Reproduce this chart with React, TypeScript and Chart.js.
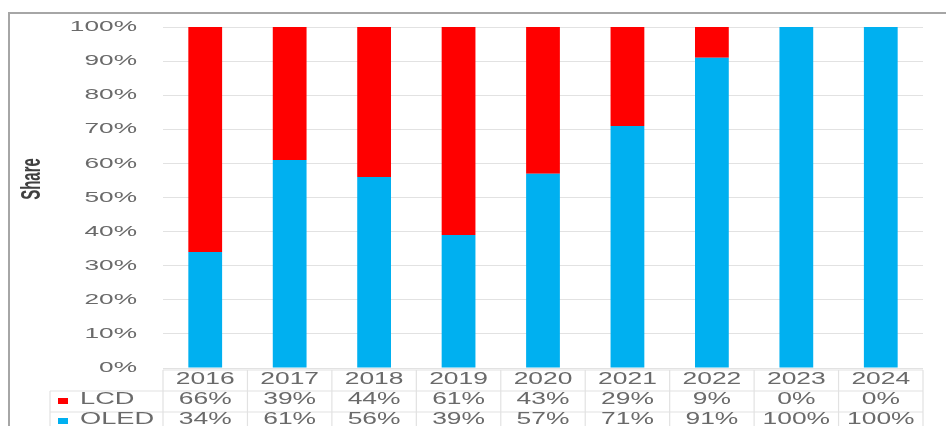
import React, { useEffect, useRef } from "react";
import { Chart, registerables } from "chart.js";

Chart.register(...registerables);

const years = ["2016", "2017", "2018", "2019", "2020", "2021", "2022", "2023", "2024"];
const oledShare = [34, 61, 56, 39, 57, 71, 91, 100, 100];
const lcdShare = [66, 39, 44, 61, 43, 29, 9, 0, 0];
const lcdLabels = ["66%", "39%", "44%", "61%", "43%", "29%", "9%", "0%", "0%"];
const oledLabels = ["34%", "61%", "56%", "39%", "57%", "71%", "91%", "100%", "100%"];

const OLED_COLOR = "#00B0F0";
const LCD_COLOR = "#FF0000";
const TEXT_COLOR = "#6a6a6a";
const LINE_COLOR = "#e2e2e2";
const FONT = "'Liberation Sans', Arial, sans-serif";

function stretchText(ctx: CanvasRenderingContext2D, text: string, x: number, y: number, sx: number, align: CanvasTextAlign) {
  ctx.save();
  ctx.translate(x, y);
  ctx.scale(sx, 1);
  ctx.textAlign = align;
  ctx.textBaseline = "middle";
  ctx.fillText(text, 0, 0);
  ctx.restore();
}

const decorPlugin = {
  id: "decor",
  afterDraw(chart: any) {
    const ctx: CanvasRenderingContext2D = chart.ctx;
    const xs = chart.scales.x;
    const ys = chart.scales.y;
    const area = chart.chartArea;
    const n = years.length;
    const colW = (area.right - area.left) / n;

    // outer frame
    ctx.save();
    ctx.strokeStyle = "#a6a6a6";
    ctx.lineWidth = 2;
    ctx.beginPath();
    ctx.moveTo(9, 430);
    ctx.lineTo(9, 13);
    ctx.lineTo(950, 13);
    ctx.stroke();
    ctx.restore();

    // y tick labels
    ctx.save();
    ctx.fillStyle = TEXT_COLOR;
    ctx.font = `15px ${FONT}`;
    ys.ticks.forEach((t: any) => {
      const py = ys.getPixelForValue(t.value);
      stretchText(ctx, `${t.value}%`, 137, py, 1.75, "right");
    });
    ctx.restore();

    // axis title
    ctx.save();
    ctx.fillStyle = "#404040";
    ctx.font = `bold 15px ${FONT}`;
    ctx.translate(33, 179);
    ctx.scale(1.8, 1);
    ctx.rotate(-Math.PI / 2);
    ctx.textAlign = "center";
    ctx.textBaseline = "middle";
    ctx.fillText("Share", 0, 0);
    ctx.restore();

    // data table
    const top = area.bottom + 2;
    const rowH = 21;
    const r1 = top + rowH;
    const r2 = top + 2 * rowH;
    const bottom = top + 3 * rowH;
    const legLeft = 50;
    ctx.save();
    ctx.strokeStyle = LINE_COLOR;
    ctx.lineWidth = 1.2;
    ctx.beginPath();
    ctx.moveTo(area.left, top);
    ctx.lineTo(area.right, top);
    ctx.moveTo(legLeft, r1);
    ctx.lineTo(area.right, r1);
    ctx.moveTo(legLeft, r2);
    ctx.lineTo(area.right, r2);
    ctx.moveTo(legLeft, r1);
    ctx.lineTo(legLeft, bottom);
    for (let k = 0; k <= n; k++) {
      const bx = area.left + k * colW;
      ctx.moveTo(bx, top);
      ctx.lineTo(bx, bottom);
    }
    ctx.stroke();

    ctx.fillStyle = TEXT_COLOR;
    ctx.font = `16px ${FONT}`;
    years.forEach((yr, i) => {
      const cx = xs.getPixelForValue(i);
      stretchText(ctx, yr, cx, top + 10, 1.65, "center");
      stretchText(ctx, lcdLabels[i], cx, r1 + 9, 1.65, "center");
      stretchText(ctx, oledLabels[i], cx, r2 + 8, 1.65, "center");
    });

    // legend keys
    ctx.fillStyle = LCD_COLOR;
    ctx.fillRect(58, r1 + 7, 10, 6);
    ctx.fillStyle = OLED_COLOR;
    ctx.fillRect(58, r2 + 6, 10, 6);
    ctx.fillStyle = TEXT_COLOR;
    stretchText(ctx, "LCD", 80, r1 + 9, 1.7, "left");
    stretchText(ctx, "OLED", 80, r2 + 8, 1.7, "left");
    ctx.restore();
  },
};

export default function App() {
  const ref = useRef<HTMLCanvasElement>(null);
  useEffect(() => {
    document.body.style.margin = "0";
    const chart = new Chart(ref.current!, {
      type: "bar",
      data: {
        labels: years,
        datasets: [
          { label: "OLED", data: oledShare, backgroundColor: OLED_COLOR, stack: "s" },
          { label: "LCD", data: lcdShare, backgroundColor: LCD_COLOR, stack: "s" },
        ],
      },
      options: {
        responsive: false,
        animation: false,
        layout: { padding: { left: 163, right: 23, top: 27, bottom: 58 } },
        plugins: { legend: { display: false }, tooltip: { enabled: false } },
        datasets: { bar: { categoryPercentage: 1, barPercentage: 0.4 } },
        scales: {
          x: {
            stacked: true,
            ticks: { display: false },
            grid: { display: false, drawTicks: false },
            border: { display: false },
            afterFit: (s: any) => { s.height = 0; },
          },
          y: {
            stacked: true,
            min: 0,
            max: 100,
            ticks: { display: false, stepSize: 10 },
            grid: { color: LINE_COLOR, lineWidth: 1, drawTicks: false },
            border: { display: false },
            afterFit: (s: any) => { s.width = 0; },
          },
        },
      } as any,
      plugins: [decorPlugin],
    });
    return () => chart.destroy();
  }, []);
  return (
    <div style={{ position: "absolute", left: 0, top: 0, width: 946, height: 426, background: "#fff" }}>
      <canvas ref={ref} width={946} height={426} style={{ width: 946, height: 426 }} />
    </div>
  );
}
